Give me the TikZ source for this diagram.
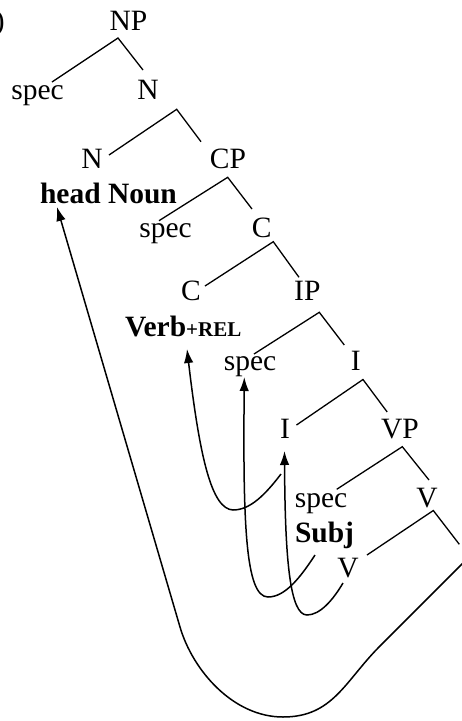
\documentclass[tikz,border=0pt]{standalone}
\usepackage{fontspec}
\setmainfont{Liberation Serif}
\usetikzlibrary{arrows.meta,calc}
\begin{document}
\begin{tikzpicture}[x=1pt,y=-1pt,
  lbl/.style={inner sep=0pt, outer sep=0pt, anchor=base, font=\fontsize{29.5}{34}\selectfont},
  blbl/.style={lbl, font=\fontsize{29.5}{34}\selectfont\bfseries},
  branch/.style={line width=1.3pt},
  move/.style={line width=1.5pt, -{Latex[length=14pt,width=9.5pt]}}]
\useasboundingbox (0,0) rectangle (462,721);
% labels
\node[lbl, anchor=base west] (paren) at (-5.1,30) {)};
\node[lbl] (NP) at (128.5,30) {NP};
\node[lbl] (spec1) at (37.5,99) {spec};
\node[lbl] (N1) at (148,99) {N};
\node[lbl] (N2) at (92,168) {N};
\node[lbl] (CP) at (228,168) {CP};
\node[blbl, anchor=base west] (hn) at (40,203) {head Noun};
\node[lbl] (spec2) at (165.5,237) {spec};
\node[lbl] (C1) at (261.7,237) {C};
\node[lbl] (C2) at (191,300) {C};
\node[lbl] (IP) at (307.3,300) {IP};
\node[blbl, anchor=base west] (vr) at (125,336) {Verb{\fontsize{21}{24}\selectfont+REL}};
\node[lbl] (spec3) at (250,370) {spec};
\node[lbl] (I1) at (355.7,370) {I};
\node[lbl] (I2) at (285,438) {I};
\node[lbl] (VP) at (400,438) {VP};
\node[lbl] (spec4) at (321,507) {spec};
\node[lbl] (V1) at (427,507) {V};
\node[blbl, anchor=base west] (subj) at (295,542) {Subj};
\node[lbl] (V2) at (348,577) {V};
% branch points and branch ends
\coordinate (aNP) at (118,38);    \coordinate (lNP) at (52,82);      \coordinate (rNP) at (143,70);
\coordinate (aN1) at (176.7,109.3); \coordinate (lN1) at (109,155);  \coordinate (rN1) at (201,141.7);
\coordinate (aCP) at (227.7,177.3); \coordinate (lCP) at (159,220.7); \coordinate (rCP) at (252,209);
\coordinate (aC1) at (273.3,241.7); \coordinate (lC1) at (205,286);  \coordinate (rC1) at (299,277.3);
\coordinate (aIP) at (319.3,312.3); \coordinate (lIP) at (254,354);  \coordinate (rIP) at (344.3,345);
\coordinate (aI1) at (363,379.5);   \coordinate (lI1) at (296.5,425); \coordinate (rI1) at (387.2,412);
\coordinate (aVP) at (402.3,446.7); \coordinate (lVP) at (336.7,489.3); \coordinate (rVP) at (429,480);
\coordinate (aV1) at (433.3,510.5); \coordinate (lV1) at (367,555);  \coordinate (rV1) at (459.3,544.3);
\foreach \p in {NP,N1,CP,C1,IP,I1,VP,V1}{
  \draw[branch] (l\p) -- (a\p) -- (r\p);
}
% movement arrows
\coordinate (hnTip) at (57,207);
\coordinate (vrTip) at (187,349);
\coordinate (s3Tip) at (244.3,377);
\coordinate (i2Tip) at (284.5,451);
\coordinate (c1s) at (281,474);
\coordinate (c2s) at (315,555);
\coordinate (c3s) at (343,583);
\coordinate (c4s) at (480,546);
\draw[move] (c1s) .. controls (265,495) and (250,510) .. (233,510)
  .. controls (212,509) and (200,460) .. (vrTip);
\draw[move] (c2s) .. controls (300,578) and (285,597) .. (268,597)
  .. controls (245,597) and (243,520) .. (s3Tip);
\draw[move] (c3s) .. controls (333,600) and (320,615) .. (307,615)
  .. controls (290,615) and (285,560) .. (i2Tip);
\draw[move] (c4s) -- (380,646) .. controls (344.6,681.4) and (333,717) .. (283,717)
  .. controls (233,717) and (192.6,670.2) .. (180,627) -- (hnTip);
\end{tikzpicture}
\end{document}
